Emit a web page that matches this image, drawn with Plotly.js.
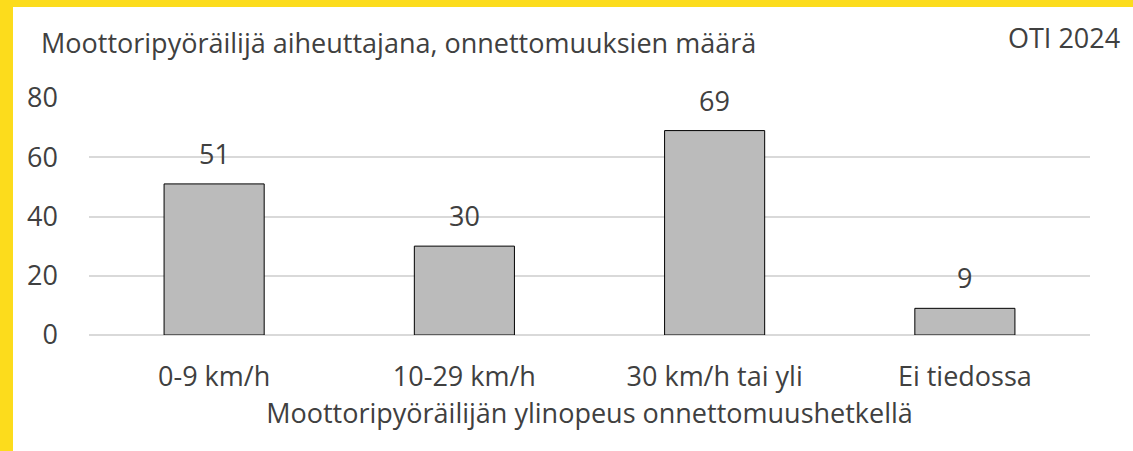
<!DOCTYPE html>
<html>
<head>
<meta charset="utf-8">
<script src="https://cdn.plot.ly/plotly-3.0.1.min.js"></script>
<style>
	html, body { margin: 0; padding: 0; background: #fcdc1c; }
	#chart { position: absolute; left: 13px; top: 7px; width: 1120px; height: 444px; background: #fff; }
</style>
</head>
<body>
<div id="chart"></div>
<script>
// speed categories and accident counts
var categories = ['0-9 km/h', '10-29 km/h', '30 km/h tai yli', 'Ei tiedossa'];
var counts = [51, 30, 69, 9];
var yTicks = [0, 20, 40, 60, 80];

var chartTitle = 'Moottoripyöräilijä aiheuttajana, onnettomuuksien määrä';
var xTitle = 'Moottoripyöräilijän ylinopeus onnettomuushetkellä';
var source = 'OTI 2024';

var FONT = '"Open Sans", "Noto Sans", sans-serif';
var SIZE = 27;
var TXT = '#404040';

var data = [{
	x: categories,
	y: counts,
	type: 'bar',
	marker: {
		color: '#bbbbbb',
		line: { color: '#000000', width: 1 }
	},
	hoverinfo: 'none'
}];

// value labels sit a bit above each bar
var labels = categories.map((c, i) => {
	return {
		x: c,
		y: counts[i],
		xref: 'x',
		yref: 'y',
		text: String(counts[i]),
		showarrow: false,
		yanchor: 'bottom',
		yshift: 10,
		font: { family: FONT, size: SIZE, color: TXT }
	}
});

labels.push({
	xref: 'paper', yref: 'paper',
	x: -0.05, y: 1,
	xanchor: 'left', yanchor: 'bottom',
	yshift: 35,
	text: chartTitle,
	showarrow: false,
	font: { family: FONT, size: SIZE, color: TXT }
});
labels.push({
	xref: 'paper', yref: 'paper',
	x: 1.032, y: 1,
	xanchor: 'right', yanchor: 'bottom',
	yshift: 40,
	text: source,
	showarrow: false,
	font: { family: FONT, size: SIZE, color: TXT }
});

var layout = {
	width: 1120,
	height: 444,
	margin: { l: 76, r: 43, t: 91, b: 116 },
	paper_bgcolor: '#ffffff',
	plot_bgcolor: '#ffffff',
	showlegend: false,
	bargap: 0.6,
	font: { family: FONT, size: SIZE, color: TXT },
	xaxis: {
		type: 'category',
		showgrid: false,
		showline: false,
		ticks: '',
		ticklabelstandoff: 23,
		tickfont: { family: FONT, size: SIZE, color: TXT },
		title: {
			text: xTitle,
			font: { family: FONT, size: SIZE, color: TXT },
			standoff: 5
		}
	},
	yaxis: {
		range: [0, 80],
		tickvals: yTicks,
		ticktext: yTicks.map(String),
		showgrid: true,
		gridcolor: '#d9d9d9',
		gridwidth: 2,
		zeroline: true,
		zerolinecolor: '#d9d9d9',
		zerolinewidth: 2,
		showline: false,
		ticks: '',
		ticklabelstandoff: 30,
		tickfont: { family: FONT, size: SIZE, color: TXT }
	},
	annotations: labels
};

Plotly.newPlot('chart', data, layout, { displayModeBar: false, staticPlot: true });
</script>
</body>
</html>
